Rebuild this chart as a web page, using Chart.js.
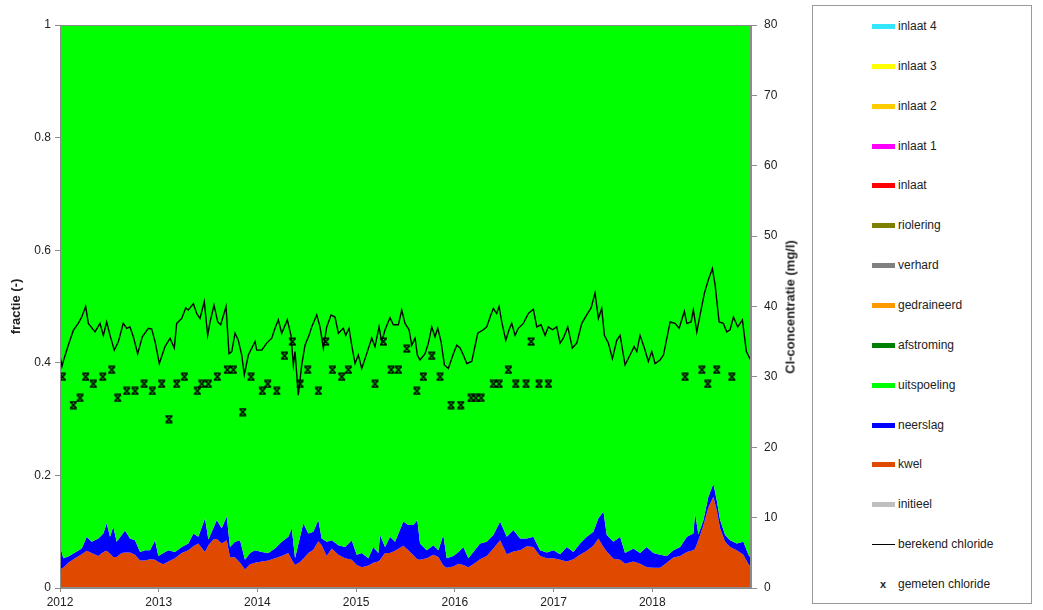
<!DOCTYPE html>
<html>
<head>
<meta charset="utf-8">
<script src="https://cdn.jsdelivr.net/npm/chart.js@4.4.1/dist/chart.umd.min.js"></script>
<style>
  html, body { margin:0; padding:0; background:#fff; }
  body { width:1043px; height:610px; position:relative; overflow:hidden; font-family:"Liberation Sans", Arial, sans-serif; }
  #wrap { position:absolute; left:0; top:0; width:810px; height:610px; }
  #rtitle { position:absolute; left:790px; top:307px; transform:translate(-50%,-50%) rotate(-90deg); white-space:nowrap;
            font:bold 13px "Liberation Sans", Arial, sans-serif; color:#222; }
  #legend { position:absolute; left:812px; top:5px; width:220px; height:599px; border:1px solid #9a9a9a; box-sizing:border-box; }
  .item { position:absolute; left:59px; height:14px; font-size:12px; color:#222; line-height:14px; }
  .sw { position:absolute; left:0; top:5px; width:23px; height:5px; }
  .lbl { position:absolute; left:26px; top:0; white-space:nowrap; }
</style>
</head>
<body>
<div id="wrap"><canvas id="c" width="810" height="610"></canvas></div>
<div id="rtitle">Cl-concentratie (mg/l)</div>
<div id="legend"></div>
<script>
// ---- data (decimal years) ----
const areaYears = [2012.000,2012.033,2012.084,2012.152,2012.220,2012.271,2012.321,2012.388,2012.439,2012.473,2012.507,2012.540,2012.574,2012.625,2012.659,2012.709,2012.760,2012.811,2012.861,2012.912,2012.963,2012.996,2013.047,2013.097,2013.165,2013.233,2013.300,2013.351,2013.401,2013.469,2013.503,2013.553,2013.588,2013.638,2013.689,2013.722,2013.773,2013.824,2013.874,2013.925,2013.976,2014.044,2014.110,2014.178,2014.246,2014.313,2014.348,2014.381,2014.432,2014.465,2014.516,2014.566,2014.617,2014.651,2014.702,2014.753,2014.820,2014.888,2014.955,2015.006,2015.057,2015.124,2015.174,2015.225,2015.242,2015.293,2015.343,2015.394,2015.478,2015.529,2015.580,2015.620,2015.647,2015.715,2015.782,2015.833,2015.883,2015.918,2015.985,2016.036,2016.086,2016.137,2016.187,2016.255,2016.323,2016.390,2016.458,2016.526,2016.593,2016.661,2016.728,2016.795,2016.863,2016.931,2016.998,2017.066,2017.134,2017.201,2017.268,2017.336,2017.403,2017.454,2017.505,2017.539,2017.606,2017.674,2017.724,2017.809,2017.876,2017.944,2018.011,2018.079,2018.147,2018.214,2018.282,2018.350,2018.416,2018.434,2018.467,2018.518,2018.568,2018.619,2018.653,2018.687,2018.738,2018.788,2018.856,2018.923,2018.974,2019.000];
const kwel = [0.033,0.036,0.045,0.053,0.060,0.066,0.062,0.057,0.064,0.066,0.061,0.055,0.055,0.062,0.063,0.063,0.059,0.049,0.049,0.051,0.050,0.046,0.042,0.047,0.053,0.062,0.067,0.074,0.079,0.064,0.076,0.086,0.087,0.079,0.085,0.055,0.054,0.045,0.033,0.042,0.045,0.047,0.049,0.053,0.057,0.062,0.050,0.041,0.046,0.052,0.062,0.068,0.083,0.076,0.057,0.070,0.059,0.053,0.050,0.041,0.037,0.040,0.045,0.047,0.050,0.062,0.062,0.066,0.075,0.067,0.058,0.051,0.050,0.053,0.059,0.055,0.040,0.036,0.038,0.043,0.041,0.037,0.042,0.051,0.057,0.070,0.085,0.060,0.065,0.067,0.074,0.073,0.057,0.053,0.053,0.050,0.047,0.051,0.059,0.066,0.075,0.088,0.073,0.065,0.052,0.050,0.043,0.047,0.043,0.037,0.036,0.036,0.045,0.054,0.057,0.064,0.067,0.070,0.085,0.111,0.143,0.162,0.138,0.106,0.082,0.073,0.067,0.059,0.042,0.038];
const neerslag = [0.043,0.017,0.011,0.010,0.010,0.025,0.020,0.031,0.033,0.049,0.030,0.054,0.027,0.032,0.039,0.025,0.026,0.015,0.018,0.016,0.035,0.011,0.020,0.020,0.011,0.011,0.012,0.023,0.012,0.060,0.010,0.020,0.034,0.027,0.042,0.018,0.028,0.040,0.017,0.020,0.022,0.017,0.013,0.017,0.025,0.029,0.056,0.012,0.045,0.063,0.035,0.032,0.038,0.012,0.025,0.015,0.017,0.020,0.035,0.018,0.025,0.013,0.028,0.015,0.044,0.011,0.029,0.016,0.043,0.045,0.054,0.070,0.029,0.014,0.017,0.012,0.054,0.017,0.019,0.021,0.032,0.016,0.022,0.028,0.025,0.024,0.033,0.031,0.038,0.021,0.014,0.018,0.010,0.010,0.014,0.010,0.026,0.013,0.020,0.025,0.025,0.036,0.063,0.029,0.030,0.041,0.019,0.023,0.019,0.036,0.026,0.023,0.012,0.013,0.016,0.027,0.030,0.063,0.010,0.010,0.019,0.023,0.018,0.015,0.012,0.012,0.012,0.023,0.017,0.015];

const berekendYears = [2012.000,2012.020,2012.033,2012.084,2012.135,2012.185,2012.220,2012.260,2012.287,2012.355,2012.405,2012.439,2012.473,2012.507,2012.550,2012.591,2012.641,2012.676,2012.709,2012.743,2012.787,2012.834,2012.895,2012.929,2012.963,2013.006,2013.064,2013.115,2013.158,2013.182,2013.233,2013.274,2013.300,2013.351,2013.385,2013.418,2013.462,2013.496,2013.520,2013.560,2013.598,2013.628,2013.682,2013.712,2013.740,2013.773,2013.806,2013.841,2013.867,2013.908,2013.976,2013.993,2014.044,2014.094,2014.145,2014.178,2014.212,2014.246,2014.303,2014.340,2014.364,2014.381,2014.414,2014.449,2014.482,2014.523,2014.550,2014.601,2014.634,2014.668,2014.702,2014.746,2014.786,2014.820,2014.870,2014.895,2014.928,2014.955,2014.989,2015.022,2015.057,2015.107,2015.158,2015.191,2015.232,2015.259,2015.293,2015.343,2015.377,2015.428,2015.462,2015.495,2015.536,2015.563,2015.597,2015.620,2015.647,2015.698,2015.732,2015.766,2015.799,2015.827,2015.860,2015.894,2015.934,2015.985,2016.019,2016.053,2016.086,2016.121,2016.171,2016.232,2016.289,2016.323,2016.357,2016.390,2016.424,2016.448,2016.475,2016.516,2016.549,2016.576,2016.610,2016.643,2016.694,2016.745,2016.795,2016.830,2016.873,2016.914,2016.947,2016.988,2017.032,2017.066,2017.099,2017.144,2017.190,2017.235,2017.286,2017.336,2017.380,2017.420,2017.454,2017.488,2017.515,2017.555,2017.596,2017.640,2017.674,2017.724,2017.775,2017.816,2017.843,2017.876,2017.920,2017.960,2017.995,2018.028,2018.079,2018.113,2018.181,2018.231,2018.272,2018.325,2018.350,2018.393,2018.416,2018.451,2018.484,2018.528,2018.568,2018.609,2018.636,2018.677,2018.720,2018.754,2018.788,2018.822,2018.866,2018.913,2018.953,2019.000];
const berekend = [33.0,31.5,32.2,34.5,36.6,37.6,38.5,40.0,37.6,36.4,37.6,35.9,37.8,35.9,33.8,35.0,37.6,36.9,37.1,35.7,33.3,35.7,36.9,36.8,35.0,31.9,34.3,35.5,34.1,37.6,38.3,39.8,39.5,40.4,39.0,38.3,40.7,35.9,37.8,40.2,37.8,37.4,40.0,33.3,33.6,36.2,35.2,33.1,30.3,33.1,35.0,33.8,33.8,34.8,35.5,36.9,38.1,36.2,38.1,35.9,31.7,33.6,27.4,31.7,34.5,35.9,37.1,38.8,37.1,34.1,37.1,38.8,38.5,36.2,36.9,35.9,36.9,34.5,31.9,33.1,31.2,33.3,35.5,34.3,37.1,35.0,36.7,38.4,37.4,37.4,39.5,37.6,36.7,34.5,35.5,33.1,32.4,33.3,34.8,37.1,35.7,36.9,35.0,31.7,31.2,33.3,34.5,34.1,33.1,31.9,32.2,36.2,36.7,37.1,38.5,39.7,39.0,40.0,37.8,35.2,36.7,37.6,35.9,36.9,37.6,39.0,39.6,37.1,37.4,35.9,37.1,36.7,37.1,34.8,35.5,37.1,34.1,34.8,37.6,38.8,39.8,41.9,38.3,39.7,35.9,34.8,32.6,35.2,35.9,31.7,33.1,34.3,33.6,35.9,34.1,32.2,33.6,31.9,32.4,33.1,37.8,37.6,36.9,39.3,37.6,37.8,39.5,36.4,38.8,41.9,43.8,45.4,43.1,37.8,37.6,36.4,36.7,38.5,37.1,38.1,33.6,32.3];

const gemetenYears = [2012.023,2012.135,2012.203,2012.260,2012.337,2012.433,2012.524,2012.585,2012.676,2012.760,2012.851,2012.935,2013.030,2013.104,2013.182,2013.259,2013.391,2013.436,2013.503,2013.594,2013.695,2013.756,2013.851,2013.935,2014.050,2014.104,2014.196,2014.273,2014.354,2014.432,2014.510,2014.617,2014.692,2014.759,2014.854,2014.921,2015.191,2015.276,2015.354,2015.428,2015.513,2015.614,2015.681,2015.766,2015.850,2015.961,2016.060,2016.164,2016.212,2016.266,2016.390,2016.448,2016.542,2016.617,2016.721,2016.772,2016.853,2016.947,2018.332,2018.502,2018.562,2018.653,2018.806];
const gemeten = [30,26,27,30,29,30,31,27,28,28,29,28,29,24,29,30,28,29,29,30,31,31,25,30,28,29,28,33,35,29,31,28,35,31,30,31,29,35,31,31,34,28,30,33,30,26,26,27,27,27,29,29,31,29,29,35,29,29,30,31,29,31,30];

const yearTicks = [2012,2013,2014,2015,2016,2017,2018];
const fracTicks = [0,0.2,0.4,0.6,0.8,1];
const clTicks = [0,10,20,30,40,50,60,70,80];

const legendLabels = ['inlaat 4','inlaat 3','inlaat 2','inlaat 1','inlaat','riolering','verhard','gedraineerd','afstroming','uitspoeling','neerslag','kwel','initieel','berekend chloride','gemeten chloride'];
const legendColors = ['#33e6ff','#ffff00','#ffcc00','#ff00ff','#ff0000','#808000','#808080','#ff9900','#008000','#00ff00','#0000ff','#e04a00','#c0c0c0','#000000','#000000'];

// ---- legend (HTML) ----
const lg = document.getElementById('legend');
legendLabels.forEach((t,i)=>{
  const d = document.createElement('div');
  d.className='item';
  d.style.top = (13 + i*39.85) + 'px';
  const sw = document.createElement('div');
  sw.className='sw';
  if (i === 13) { sw.style.height='1px'; sw.style.top='7px'; sw.style.background=legendColors[i]; }
  else if (i === 14) { sw.style.background='none'; sw.innerHTML='<span style="position:absolute;left:8px;top:-5px;font-weight:bold;font-size:11px">x</span>'; }
  else sw.style.background = legendColors[i];
  const l = document.createElement('div'); l.className='lbl'; l.textContent=t;
  d.appendChild(sw); d.appendChild(l); lg.appendChild(d);
});

// ---- marker ----
const mk = document.createElement('canvas'); mk.width=9; mk.height=9;
(function(){const g=mk.getContext('2d'); g.strokeStyle='#000'; g.lineWidth=1.6;
 g.beginPath(); g.moveTo(1.5,1.5); g.lineTo(7.5,7.5); g.moveTo(7.5,1.5); g.lineTo(1.5,7.5);
 g.moveTo(1,1.2); g.lineTo(8,1.2); g.moveTo(1,7.8); g.lineTo(8,7.8); g.stroke();})();

const kwelPts = areaYears.map((x,i)=>({x, y:kwel[i]}));
const neerTopPts = areaYears.map((x,i)=>({x, y:kwel[i]+neerslag[i]}));
const uitsPts = areaYears.map((x)=>({x, y:1}));
const berPts = berekendYears.map((x,i)=>({x, y:berekend[i]}));
const gemPts = gemetenYears.map((x,i)=>({x, y:gemeten[i]}));

const FONT = '"Liberation Sans", Arial, sans-serif';
Chart.defaults.font.family = FONT;

const borderPlugin = {
  id:'frame',
  afterDatasetsDraw(chart){
    const {ctx, chartArea:a} = chart;
    ctx.save(); ctx.strokeStyle='#8c8c8c'; ctx.lineWidth=1;
    ctx.strokeRect(a.left+0.5, a.top+0.5, a.right-a.left-1, a.bottom-a.top-1);
    ctx.restore();
  }
};

new Chart(document.getElementById('c'), {
  type:'line',
  data:{ datasets:[
    {label:'gemeten chloride', data:gemPts, yAxisID:'y1', showLine:false, pointStyle:mk, pointRadius:4.5, borderColor:'#000', backgroundColor:'#000', order:0},
    {label:'berekend chloride', data:berPts, yAxisID:'y1', borderColor:'#000', borderWidth:1.4, pointRadius:0, tension:0, fill:false, order:1},
    {label:'kwel', data:kwelPts, yAxisID:'y', borderWidth:0, borderColor:'rgba(0,0,0,0)', backgroundColor:'#e04a00', pointRadius:0, fill:'origin', order:4},
    {label:'neerslag', data:neerTopPts, yAxisID:'y', borderWidth:0, borderColor:'rgba(0,0,0,0)', backgroundColor:'#0000ff', pointRadius:0, fill:'-1', order:3},
    {label:'uitspoeling', data:uitsPts, yAxisID:'y', borderWidth:0, borderColor:'rgba(0,0,0,0)', backgroundColor:'#00ff00', pointRadius:0, fill:'-1', order:2}
  ]},
  options:{
    responsive:false, animation:false, events:[],
    layout:{padding:{left:0,right:0,top:25,bottom:0}},
    plugins:{legend:{display:false}, tooltip:{enabled:false}},
    scales:{
      x:{type:'linear', min:2012, max:2019,
         afterBuildTicks:s=>{s.ticks = yearTicks.map(v=>({value:v}));},
         ticks:{autoSkip:false, maxRotation:0, color:'#222', font:{size:12}, padding:3, callback:v=>String(v)},
         grid:{display:true, drawOnChartArea:false, tickLength:4, color:'#8c8c8c'},
         border:{display:true, color:'#8c8c8c'},
         afterFit:s=>{s.height=22;}},
      y:{position:'left', min:0, max:1,
         afterBuildTicks:s=>{s.ticks = fracTicks.map(v=>({value:v}));},
         ticks:{color:'#222', font:{size:12}, padding:4, callback:v=>String(v)},
         grid:{display:true, drawOnChartArea:false, tickLength:5, color:'#8c8c8c'},
         border:{display:true, color:'#8c8c8c'},
         title:{display:true, text:'fractie (-)', color:'#222', font:{size:13, weight:'bold'}, padding:{top:9,bottom:0}},
         afterFit:s=>{s.width=60;}},
      y1:{position:'right', min:0, max:80,
         afterBuildTicks:s=>{s.ticks = clTicks.map(v=>({value:v}));},
         ticks:{color:'#222', font:{size:12}, padding:7, callback:v=>String(v)},
         grid:{display:true, drawOnChartArea:false, tickLength:6, color:'#8c8c8c'},
         border:{display:true, color:'#8c8c8c'},
         afterFit:s=>{s.width=59;}}
    }
  },
  plugins:[borderPlugin]
});
</script>
</body>
</html>
